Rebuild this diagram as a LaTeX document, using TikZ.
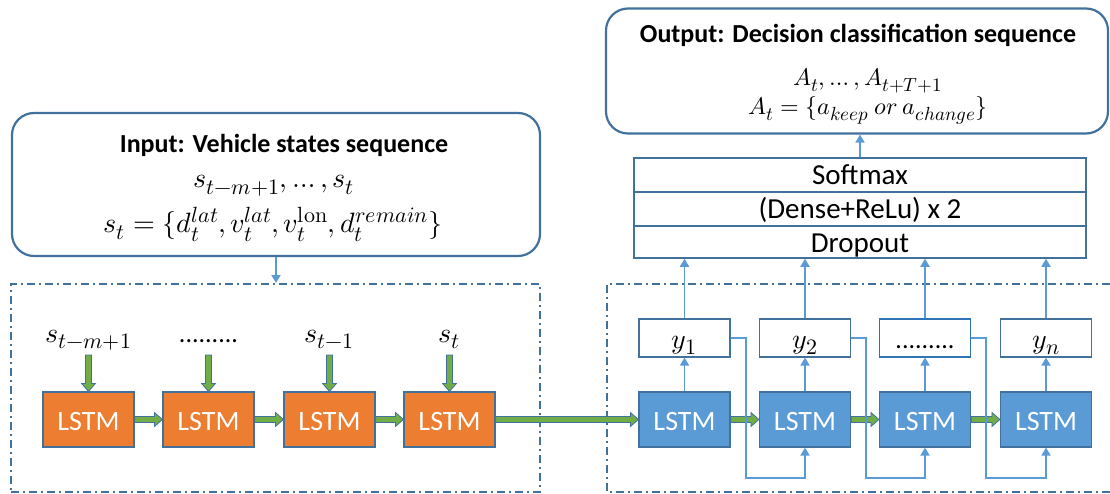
\documentclass[tikz,border=0pt]{standalone}
\usepackage{fontspec}
\usepackage{unicode-math}
\setmainfont{Carlito}
\DeclareMathSizes{28}{28}{22}{17}
\DeclareMathSizes{24}{24}{19}{15}
\usetikzlibrary{arrows.meta,calc}
\definecolor{outl}{RGB}{65,113,156}
\definecolor{blF}{RGB}{91,155,213}
\definecolor{orF}{RGB}{237,125,49}
\definecolor{grF}{RGB}{112,173,71}
\definecolor{connB}{RGB}{91,155,213}
\definecolor{connC}{RGB}{46,117,182}
\newcommand\garrowH[2]{%
  \path let \p1=(#1), \p2=(#2) in [garrow]
    (\x1,{\y1+3pt}) -- ({\x2-8pt},{\y1+3pt}) -- ({\x2-8pt},{\y1+7pt}) -- (\x2,\y1)
    -- ({\x2-8pt},{\y1-7pt}) -- ({\x2-8pt},{\y1-3pt}) -- (\x1,{\y1-3pt}) -- cycle;}
\newcommand\garrowV[2]{%
  \path let \p1=(#1), \p2=(#2) in [garrow]
    ({\x1-3pt},\y1) -- ({\x1-3pt},{\y2+8pt}) -- ({\x1-7pt},{\y2+8pt}) -- (\x1,\y2)
    -- ({\x1+7pt},{\y2+8pt}) -- ({\x1+3pt},{\y2+8pt}) -- ({\x1+3pt},\y1) -- cycle;}
\begin{document}
\begin{tikzpicture}[x=1pt,y=-1pt,
  lstmO/.style={draw=outl, line width=1.2pt, fill=orF, minimum width=91pt, minimum height=55pt,
     inner sep=0pt, text=white, font=\fontsize{28}{30}\selectfont, text height=21pt, text depth=0pt},
  lstmB/.style={lstmO, fill=blF},
  ybox/.style={draw=outl, line width=1.2pt, fill=white, minimum width=91pt, minimum height=38pt, inner sep=0pt},
  layer/.style={draw=outl, line width=1.5pt, minimum width=452pt, inner sep=0pt,
     font=\fontsize{29}{30}\selectfont, text height=22pt, text depth=2pt},
  iobox/.style={draw=outl, line width=2.2pt, rounded corners=22pt, inner sep=0pt},
  dashbox/.style={draw=outl, line width=2pt, dash pattern=on 8pt off 4pt on 2pt off 4pt},
  conn/.style={draw=connB, line width=1.8pt, -{Triangle[length=8pt,width=9pt]}},
  garrow/.style={fill=grF, draw=outl, line width=0.8pt},
  mlab/.style={font=\fontsize{28}{30}\selectfont, anchor=base, inner sep=0pt},
  dots/.style={font=\fontsize{26}{30}\selectfont, anchor=base, inner sep=0pt},
  ttl/.style={font=\fontsize{26}{28}\selectfont\bfseries, anchor=base, inner sep=0pt},
  imath/.style={font=\fontsize{28}{30}\selectfont, anchor=base, inner sep=0pt},
  omath/.style={font=\fontsize{24}{28}\selectfont, anchor=base, inner sep=0pt},
]
\useasboundingbox (0,0) rectangle (1110,494);

% dashed containers
\node[dashbox, minimum width=529pt, minimum height=208pt, inner sep=0pt] (lbox) at (275.5,388) {};
\coordinate (rtl) at (607,284);
\coordinate (rbl) at (607,492);
\draw[dashbox] (1110,284) -- (rtl) -- (rbl) -- (1110,492);

% input / output boxes
\node[iobox, minimum width=528pt, minimum height=143pt] (inbox) at (276,184.5) {};
\node[ttl] (intitle) at (284,153) {Input: Vehicle states sequence};
\node[imath] (inl2) at (274,188) {$s_{t-m+1},\ldots,s_t$};
\node[imath] (inl3) at (273,233) {$s_t=\{d_t^{lat},v_t^{lat},v_t^{\symup{lon}},d_t^{remain}\}$};

\node[iobox, minimum width=502pt, minimum height=125pt] (outbox) at (857,71) {};
\node[ttl] (outtitle) at (858,43) {Output: Decision classification sequence};
\node[omath] (outl2) at (868,86) {$A_t,\ldots,A_{t+T+1}$};
\node[omath] (outl3) at (868,115) {$A_t=\{a_{keep}\ or\ a_{change}\}$};

% dense layers
\node[layer, minimum height=34pt] (soft) at (860,175) {Softmax};
\node[layer, minimum height=34pt] (dense) at (860,209) {(Dense+ReLu) x 2};
\node[layer, minimum height=32pt] (drop) at (860,242) {Dropout};

% encoder
\node[lstmO] (O1) at (88.5,419.5) {LSTM};
\node[lstmO] (O2) at (208.5,419.5) {LSTM};
\node[lstmO] (O3) at (329.5,419.5) {LSTM};
\node[lstmO] (O4) at (449.5,419.5) {LSTM};
\node[mlab] (s1) at (88.5,342) {$s_{t-m+1}$};
\node[dots] (s2) at (208.5,342) {.........};
\node[mlab] (s3) at (329.5,342) {$s_{t-1}$};
\node[mlab] (s4) at (449.5,342) {$s_t$};
\foreach \i/\x in {1/88.5,2/208.5,3/329.5,4/449.5}{
  \coordinate (in\i) at (\x,355);
  \garrowV{in\i}{O\i.north}
}
\garrowH{O1.east}{O2.west}
\garrowH{O2.east}{O3.west}
\garrowH{O3.east}{O4.west}

% decoder
\node[lstmB] (B1) at (684.5,419.5) {LSTM};
\node[lstmB] (B2) at (805,419.5) {LSTM};
\node[lstmB] (B3) at (925,419.5) {LSTM};
\node[lstmB] (B4) at (1046,419.5) {LSTM};
\node[ybox] (Y1) at (684.5,338) {};
\node[ybox] (Y2) at (805,338) {};
\node[ybox, draw=connC] (Y3) at (925,338) {};
\node[ybox] (Y4) at (1046,338) {};
\node[mlab] at (684.5,348) {$y_1$};
\node[mlab] at (805,348) {$y_2$};
\node[dots] at (925,348) {.........};
\node[mlab] at (1046,348) {$y_n$};

\garrowH{O4.east}{B1.west}
\garrowH{B1.east}{B2.west}
\garrowH{B2.east}{B3.west}
\garrowH{B3.east}{B4.west}

\foreach \i in {1,2,3,4}{
  \draw[conn] (B\i.north) -- (Y\i.south);
  \draw[conn] (Y\i.north) -- (Y\i.north |- drop.south);
}
\foreach \i/\j in {1/2,2/3,3/4}{
  \draw[conn] (Y\i.east) -- ++(15,0) |- ($(B\j.south)+(0,30)$) -- (B\j.south);
}

\draw[conn] (soft.north) -- (soft.north |- outbox.south);
\draw[conn] (inbox.south) -- (inbox.south |- lbox.north);
\end{tikzpicture}
\end{document}
